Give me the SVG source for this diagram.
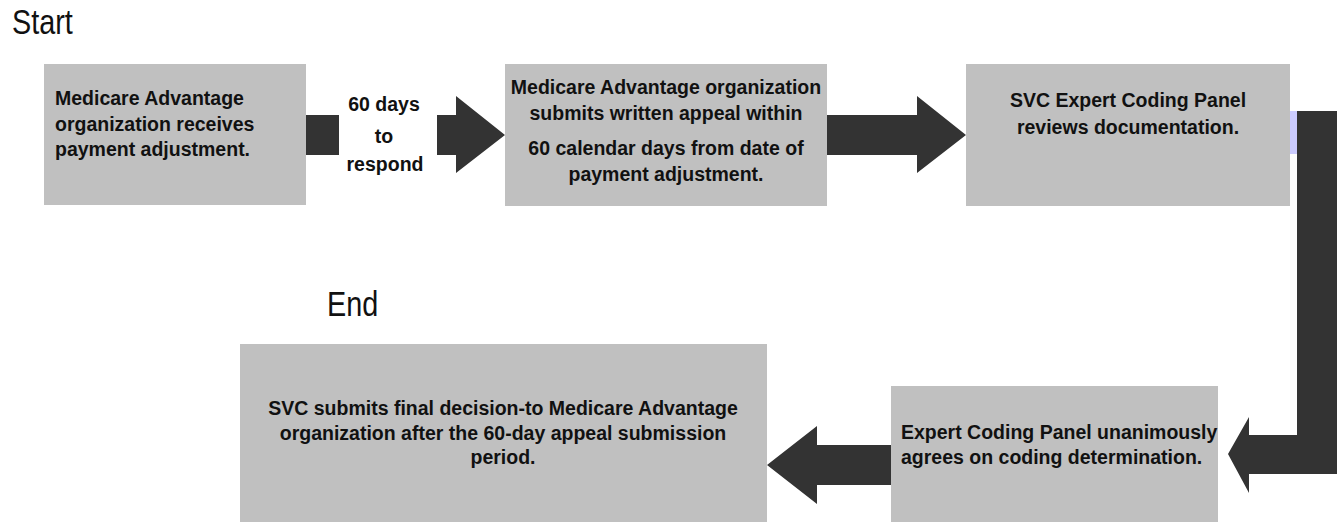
<svg xmlns="http://www.w3.org/2000/svg" width="1341" height="525" viewBox="0 0 1341 525">
  <style>
    .box { fill: #C0C0C0; }
    .arrow { fill: #333333; }
    .t { font-family: "Liberation Sans", Arial, sans-serif; font-size: 19.5px; font-weight: bold; fill: #111111; }
    .c { text-anchor: middle; }
    .title { font-family: "Liberation Sans", Arial, sans-serif; font-size: 36px; fill: #111111; }
  </style>
  <rect width="1341" height="525" fill="#FFFFFF"/>

  <g id="label-start">
    <text class="title" transform="translate(12,34) scale(0.8,1)">Start</text>
  </g>
  <g id="label-end">
    <text class="title" transform="translate(327,316) scale(0.8,1)">End</text>
  </g>

  <g id="connectors">
    <path class="arrow" d="M306,115 H456 V96 L505,135 L456,173 V155 H306 Z"/>
    <rect x="339" y="90" width="98" height="95" fill="#FFFFFF"/>
    <text class="t c" x="384" y="111">60 days</text>
    <text class="t c" x="384" y="143">to</text>
    <text class="t c" x="385" y="171">respond</text>
    <path class="arrow" d="M827,115 H917 V96 L966,135 L917,173 V155 H827 Z"/>
    <rect x="1290" y="111" width="7" height="43" fill="#CCCCFF"/>
    <path class="arrow" d="M1297,111 H1337 V474 H1249 V493 L1228,454 L1249,417 V435 H1297 Z"/>
    <path class="arrow" d="M891,445 H817 V426 L767,465 L817,504 V485 H891 Z"/>
  </g>

  <g id="node-receive">
    <rect class="box" x="44" y="64" width="262" height="141"/>
    <text class="t" x="55" y="105">Medicare Advantage</text>
    <text class="t" x="55" y="131">organization receives</text>
    <text class="t" x="55" y="156">payment adjustment.</text>
  </g>

  <g id="node-appeal">
    <rect class="box" x="505" y="64" width="322" height="142"/>
    <text class="t c" x="666" y="94">Medicare Advantage organization</text>
    <text class="t c" x="666" y="120">submits written appeal within</text>
    <text class="t c" x="666" y="155">60 calendar days from date of</text>
    <text class="t c" x="666" y="181">payment adjustment.</text>
  </g>

  <g id="node-review">
    <rect class="box" x="966" y="64" width="324" height="142"/>
    <text class="t c" x="1128" y="107">SVC Expert Coding Panel</text>
    <text class="t c" x="1128" y="134">reviews documentation.</text>
  </g>

  <g id="node-agree">
    <rect class="box" x="891" y="386" width="327" height="136"/>
    <text class="t" x="901" y="439">Expert Coding Panel unanimously</text>
    <text class="t" x="901" y="464">agrees on coding determination.</text>
  </g>

  <g id="node-decision">
    <rect class="box" x="240" y="344" width="527" height="178"/>
    <text class="t c" x="503" y="415">SVC submits final decision-to Medicare Advantage</text>
    <text class="t c" x="503" y="440">organization after the 60-day appeal submission</text>
    <text class="t c" x="503" y="464">period.</text>
  </g>
</svg>
